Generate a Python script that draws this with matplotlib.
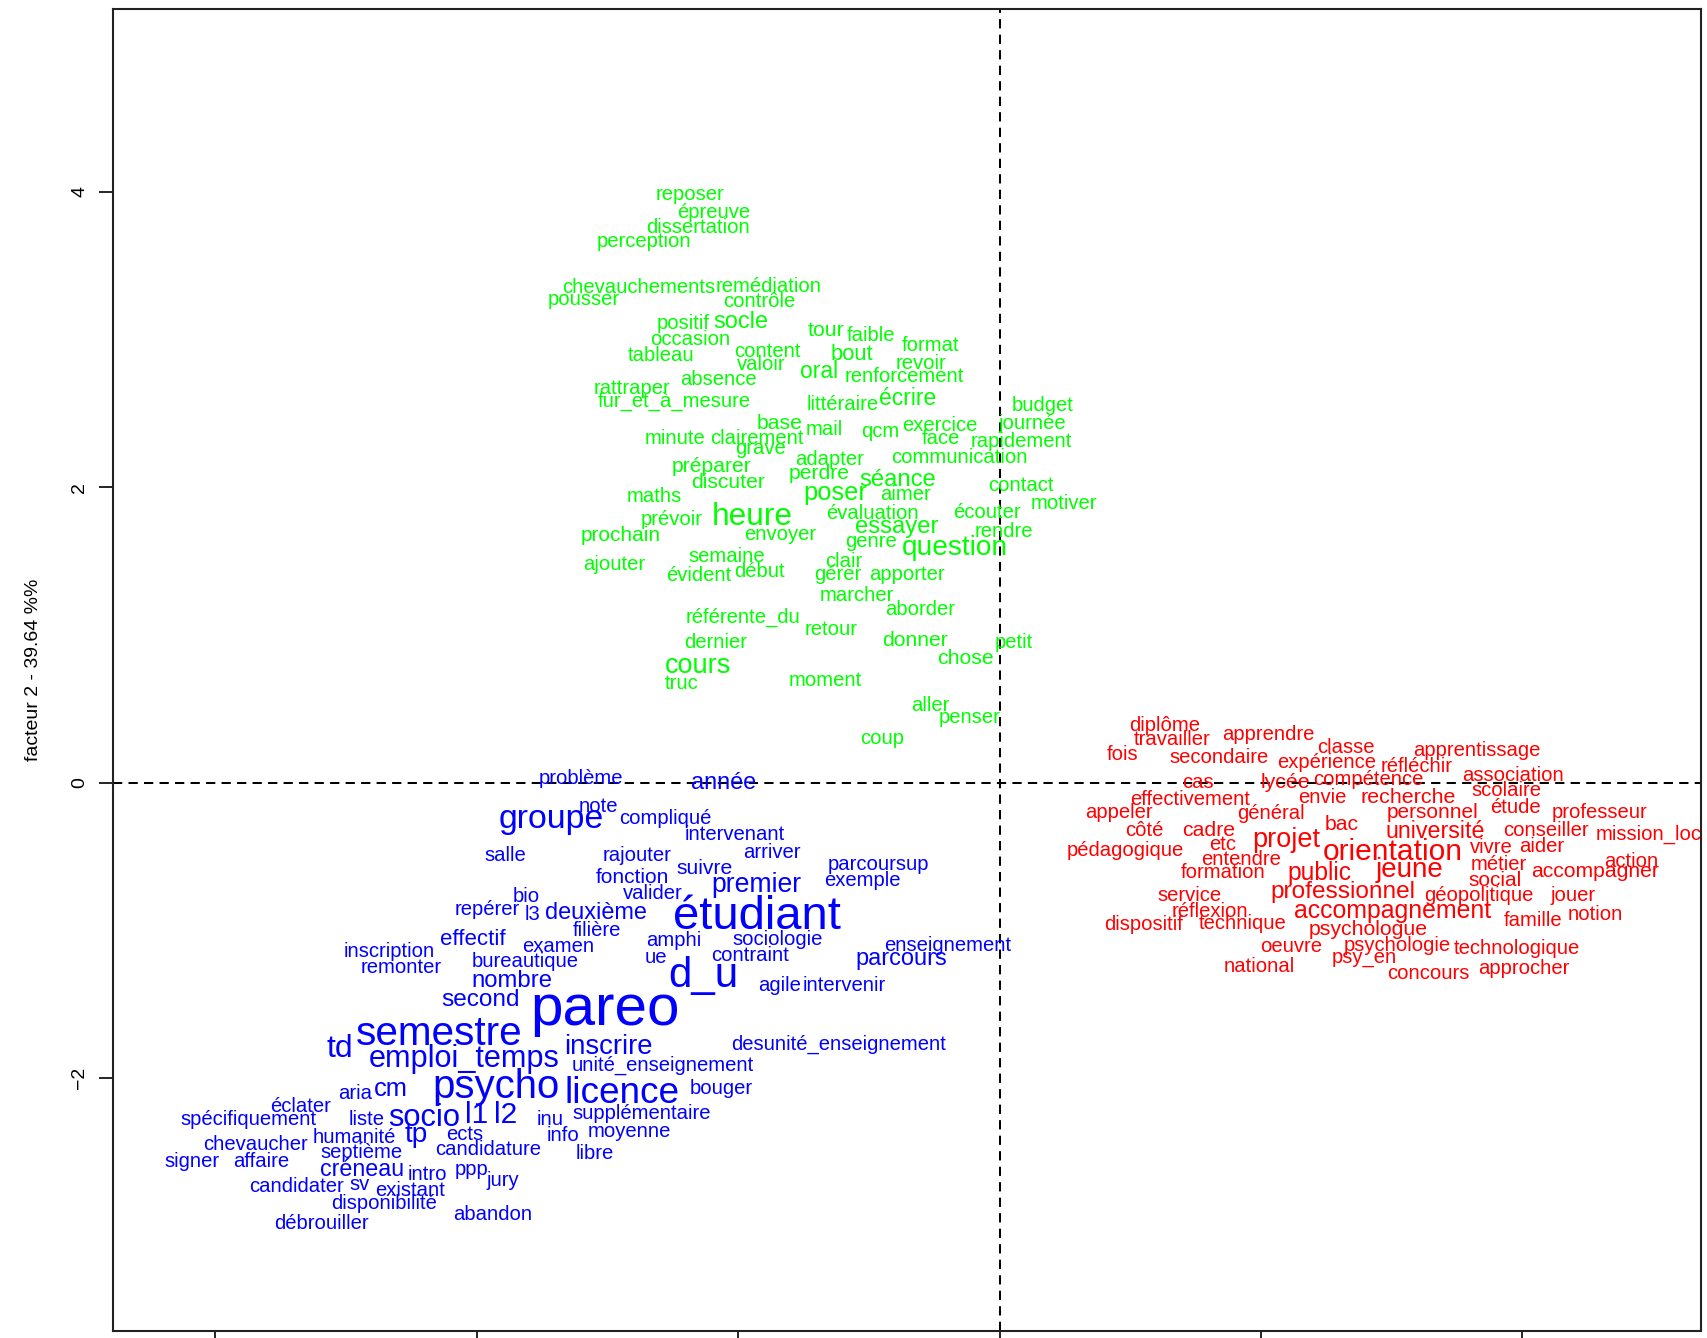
import matplotlib
matplotlib.use("Agg")
import matplotlib.pyplot as plt

plt.rcParams['font.family'] = ['Liberation Sans', 'DejaVu Sans']

# classe verte
mots_vert = ["reposer", "épreuve", "dissertation", "perception", "chevauchements", "remédiation",
             "pousser", "contrôle", "positif", "socle", "occasion", "tableau", "content", "valoir",
             "absence", "tour", "faible", "format", "bout", "revoir", "oral", "renforcement",
             "rattraper", "fur_et_à_mesure", "littéraire", "écrire", "budget", "journée", "base",
             "mail", "qcm", "exercice", "face", "rapidement", "minute", "clairement", "grave",
             "adapter", "communication", "préparer", "perdre", "séance", "discuter", "contact",
             "maths", "poser", "aimer", "heure", "évaluation", "écouter", "motiver", "prévoir",
             "prochain", "envoyer", "essayer", "rendre", "genre", "question", "semaine", "ajouter",
             "clair", "évident", "début", "gérer", "apporter", "marcher", "aborder", "référente_du",
             "retour", "dernier", "donner", "petit", "chose", "cours", "truc", "moment", "aller",
             "penser", "coup"]
x_vert = [-2.37, -2.19, -2.31, -2.72, -2.76, -1.77, -3.18, -1.84, -2.42, -1.98, -2.37, -2.59, -1.78,
          -1.82, -2.15, -1.33, -0.98, -0.53, -1.13, -0.60, -1.38, -0.73, -2.81, -2.49, -1.20, -0.70,
          0.33, 0.25, -1.68, -1.34, -0.91, -0.46, -0.45, 0.17, -2.48, -1.86, -1.83, -1.30, -0.31,
          -2.20, -1.38, -0.78, -2.08, 0.16, -2.64, -1.26, -0.72, -1.89, -0.97, -0.10, 0.49, -2.51,
          -2.90, -1.68, -0.79, 0.03, -0.98, -0.34, -2.09, -2.95, -1.19, -2.30, -1.84, -1.24, -0.71,
          -1.09, -0.61, -1.96, -1.29, -2.17, -0.65, 0.11, -0.26, -2.31, -2.43, -1.33, -0.53, -0.23,
          -0.90]
y_vert = [3.98, 3.86, 3.76, 3.66, 3.35, 3.36, 3.27, 3.26, 3.11, 3.12, 3.00, 2.89, 2.92, 2.83, 2.73,
          3.06, 3.03, 2.96, 2.90, 2.84, 2.78, 2.75, 2.67, 2.58, 2.56, 2.60, 2.55, 2.43, 2.43, 2.39,
          2.38, 2.42, 2.33, 2.31, 2.33, 2.33, 2.26, 2.19, 2.20, 2.14, 2.09, 2.05, 2.03, 2.01, 1.94,
          1.96, 1.95, 1.80, 1.82, 1.83, 1.89, 1.78, 1.67, 1.68, 1.73, 1.70, 1.63, 1.59, 1.53, 1.48,
          1.50, 1.40, 1.43, 1.41, 1.41, 1.27, 1.17, 1.12, 1.04, 0.95, 0.96, 0.95, 0.84, 0.79, 0.67,
          0.69, 0.52, 0.44, 0.30]
poids_vert = {"socle": 1.16, "tour": 1.05, "bout": 1.08, "oral": 1.13, "écrire": 1.13, "base": 1.05,
              "séance": 1.18, "poser": 1.26, "heure": 1.56, "essayer": 1.18, "question": 1.38,
              "cours": 1.34, "prochain": 1.03, "préparer": 1.04, "discuter": 1.04, "perdre": 1.04,
              "donner": 1.04, "chose": 1.05}

# classe bleue
mots_bleu = ["problème", "année", "note", "groupe", "compliqué", "intervenant", "salle", "rajouter",
             "arriver", "parcoursup", "suivre", "fonction", "premier", "exemple", "bio", "valider",
             "repérer", "l3", "deuxième", "étudiant", "filière", "effectif", "amphi", "sociologie",
             "inscription", "examen", "ue", "contraint", "enseignement", "parcours", "remonter",
             "bureautique", "d_u", "agile", "intervenir", "nombre", "second", "pareo", "semestre",
             "td", "inscrire", "desunité_enseignement", "emploi_temps", "unité_enseignement", "aria",
             "cm", "psycho", "licence", "bouger", "éclater", "spécifiquement", "liste", "socio", "l1",
             "l2", "inu", "supplémentaire", "chevaucher", "humanité", "tp", "ects", "info", "moyenne",
             "septième", "candidature", "libre", "signer", "affaire", "créneau", "intro", "ppp",
             "jury", "candidater", "sv", "existant", "disponibilité", "abandon", "débrouiller"]
x_bleu = [-3.20, -2.11, -3.07, -3.43, -2.56, -2.03, -3.78, -2.77, -1.74, -0.93, -2.26, -2.81, -1.86,
          -1.05, -3.62, -2.65, -3.92, -3.57, -3.09, -1.86, -3.08, -4.03, -2.49, -1.70, -4.67, -3.38,
          -2.63, -1.91, -0.40, -0.75, -4.58, -3.63, -2.27, -1.68, -1.19, -3.73, -3.97, -3.02, -4.29,
          -5.05, -2.99, -1.23, -4.10, -2.58, -4.93, -4.66, -3.85, -2.89, -2.13, -5.35, -5.75, -4.84,
          -4.40, -4.00, -3.78, -3.44, -2.74, -5.69, -4.94, -4.46, -4.09, -3.34, -2.83, -4.88, -3.91,
          -3.10, -6.18, -5.65, -4.88, -4.38, -4.04, -3.80, -5.38, -4.90, -4.51, -4.71, -3.88, -5.19]
y_bleu = [0.03, 0.00, -0.16, -0.25, -0.24, -0.35, -0.49, -0.49, -0.47, -0.55, -0.58, -0.64, -0.69,
          -0.66, -0.77, -0.75, -0.86, -0.89, -0.88, -0.91, -1.00, -1.06, -1.07, -1.06, -1.14, -1.11,
          -1.18, -1.17, -1.10, -1.19, -1.25, -1.21, -1.31, -1.37, -1.37, -1.34, -1.47, -1.54, -1.70,
          -1.80, -1.79, -1.77, -1.87, -1.91, -2.10, -2.07, -2.06, -2.10, -2.07, -2.19, -2.28, -2.28,
          -2.27, -2.25, -2.25, -2.28, -2.24, -2.45, -2.40, -2.38, -2.38, -2.39, -2.36, -2.50, -2.48,
          -2.51, -2.56, -2.56, -2.62, -2.65, -2.62, -2.69, -2.73, -2.72, -2.76, -2.85, -2.92, -2.98]
poids_bleu = {"année": 1.16, "groupe": 1.67, "étudiant": 2.33, "d_u": 2.07, "pareo": 2.88,
              "semestre": 2.0, "td": 1.58, "inscrire": 1.36, "emploi_temps": 1.51, "cm": 1.26,
              "psycho": 1.98, "licence": 1.82, "socio": 1.52, "l1": 1.48, "l2": 1.48, "tp": 1.38,
              "premier": 1.31, "deuxième": 1.16, "parcours": 1.16, "nombre": 1.18, "second": 1.2,
              "créneau": 1.15, "effectif": 1.1, "fonction": 1.03, "suivre": 1.04}

# classe rouge
mots_rouge = ["diplôme", "travailler", "apprendre", "fois", "secondaire", "classe", "apprentissage",
              "expérience", "réfléchir", "cas", "lycée", "compétence", "association", "effectivement",
              "envie", "recherche", "scolaire", "appeler", "général", "personnel", "étude",
              "professeur", "côté", "cadre", "bac", "université", "conseiller", "mission_locale",
              "pédagogique", "etc", "projet", "orientation", "vivre", "aider", "entendre", "métier",
              "action", "formation", "public", "jeune", "accompagner", "social", "service",
              "professionnel", "géopolitique", "jouer", "réflexion", "accompagnement", "famille",
              "notion", "dispositif", "technique", "psychologue", "oeuvre", "psychologie",
              "technologique", "psy_en", "national", "concours", "approcher"]
x_rouge = [1.26, 1.32, 2.06, 0.94, 1.68, 2.65, 3.65, 2.50, 3.19, 1.52, 2.19, 2.82, 3.93, 1.46, 2.47,
           3.13, 3.88, 0.91, 2.08, 3.31, 3.95, 4.59, 1.11, 1.60, 2.62, 3.33, 4.18, 5.07, 0.96, 1.71,
           2.19, 3.01, 3.76, 4.15, 1.85, 3.82, 4.83, 1.71, 2.45, 3.14, 4.56, 3.79, 1.45, 2.63, 3.67,
           4.39, 1.61, 3.01, 4.08, 4.56, 1.10, 1.86, 2.82, 2.23, 3.04, 3.96, 2.79, 1.99, 3.28, 4.01]
y_rouge = [0.39, 0.29, 0.33, 0.19, 0.17, 0.24, 0.22, 0.14, 0.11, 0.00, 0.00, 0.02, 0.05, -0.11,
           -0.10, -0.10, -0.05, -0.20, -0.21, -0.20, -0.17, -0.20, -0.32, -0.32, -0.28, -0.33, -0.32,
           -0.35, -0.46, -0.42, -0.39, -0.47, -0.44, -0.43, -0.52, -0.55, -0.53, -0.61, -0.61, -0.59,
           -0.60, -0.66, -0.76, -0.74, -0.76, -0.76, -0.87, -0.87, -0.93, -0.89, -0.96, -0.95, -0.99,
           -1.11, -1.10, -1.12, -1.18, -1.24, -1.29, -1.26]
poids_rouge = {"université": 1.15, "projet": 1.34, "orientation": 1.48, "public": 1.21,
               "jeune": 1.37, "professionnel": 1.2, "accompagnement": 1.23, "psychologue": 1.05,
               "recherche": 1.06, "personnel": 1.03, "cadre": 1.05, "bac": 1.05,
               "accompagner": 1.04, "social": 1.03, "lycée": 1.05}

ticks_x = [-6, -4, -2, 0, 2, 4]
ticks_y = [-2, 0, 2, 4]
label_y = "facteur 2 - 39.64 %%"

classes = [(mots_vert, x_vert, y_vert, poids_vert, "#00ff00"),
           (mots_bleu, x_bleu, y_bleu, poids_bleu, "#0000ff"),
           (mots_rouge, x_rouge, y_rouge, poids_rouge, "#ff0000")]

fig = plt.figure(figsize=(17.08, 13.38), dpi=100)
ax = fig.add_axes([0.0662, 0.0054, 0.9297, 0.9881])
ax.set_xlim(-6.783, 5.367)
ax.set_ylim(-3.708, 5.238)

taille = 14.6
for mots, xs, ys, poids, coul in classes:
    assert len(mots) == len(xs) == len(ys)
    for m, x, y in zip(mots, xs, ys):
        ax.text(x, y, m, color=coul, fontsize=taille * poids.get(m, 1.0),
                ha='center', va='center', clip_on=True)

# axes a zero
ax.axhline(0, color='black', lw=1.45, ls=(0, (4.6, 3.1)))
ax.axvline(0, color='black', lw=1.45, ls=(0, (4.6, 3.1)))

for s in ax.spines.values():
    s.set_linewidth(1.5)
    s.set_color('#222222')

ax.set_xticks(ticks_x)
ax.set_yticks(ticks_y)
ax.tick_params(direction='out', length=10, width=1.2, labelsize=14, pad=8)
# labels de l'axe x hors de l'image (coupee en bas)
ax.tick_params(axis='x', labelbottom=False)
for lab in ax.get_yticklabels():
    lab.set_rotation(90)
    lab.set_va('center')
ax.set_ylabel(label_y, fontsize=14, va='center')
ax.yaxis.set_label_coords(-0.050, 0.5)

fig.savefig('out.png', dpi=100)
